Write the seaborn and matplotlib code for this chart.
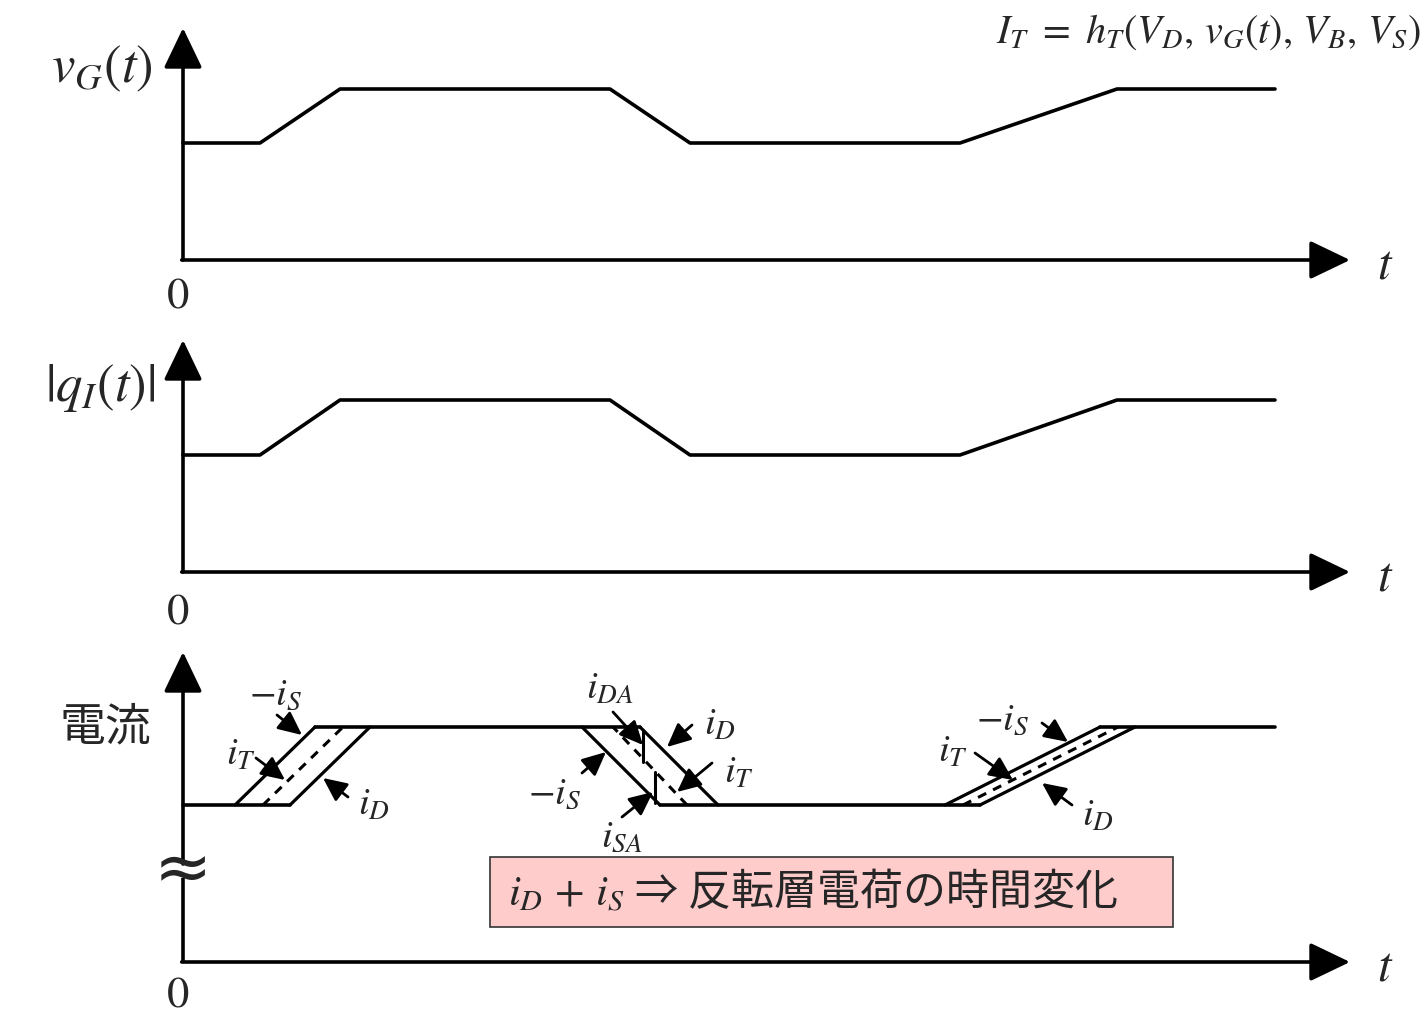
import matplotlib
matplotlib.use("Agg")
import matplotlib.pyplot as plt
from matplotlib.patches import Rectangle
import seaborn as sns

# time knots (units of 100 px on the drawing) and levels for the two voltage-like traces
t_knots = [0.0, 0.77, 1.57, 4.27, 5.07, 7.77, 9.34, 10.92]
vg_level = [1.17, 1.17, 1.71, 1.71, 1.17, 1.17, 1.71, 1.71]
qi_level = [1.17, 1.17, 1.72, 1.72, 1.17, 1.17, 1.72, 1.72]

# current panel: two plateaus and three transitions
cur_low, cur_high = 1.57, 2.35
low_runs = [(0.0, 1.07), (4.77, 7.97)]
high_runs = [(1.32, 4.57), (9.17, 10.92)]
# each edge: t at low level, t at high level
is_edge = [(0.52, 1.32), (4.77, 3.99), (7.62, 9.17)]
id_edge = [(1.07, 1.87), (5.35, 4.57), (7.97, 9.52)]
it_edge = [(0.80, 1.60), (5.04, 4.30), (7.80, 9.35)]
# small vertical pieces at the falling edge (i_DA, i_SA)
ida_seg = (4.60, 2.32, 2.00)
isa_seg = (4.72, 1.90, 1.59)

# labels: text, label position, arrow tail, arrow head
notes = [
    (r"$-i_S$", (0.93, 2.68), (0.94, 2.47), (1.19, 2.27)),
    (r"$i_T$", (0.58, 2.08), (0.73, 2.04), (1.02, 1.82)),
    (r"$i_D$", (1.91, 1.58), (1.65, 1.65), (1.40, 1.84)),
    (r"$i_{DA}$", (4.27, 2.74), (4.30, 2.50), (4.60, 2.17)),
    (r"$i_D$", (5.37, 2.38), (5.09, 2.37), (4.84, 2.15)),
    (r"$i_T$", (5.56, 1.90), (5.29, 1.99), (4.94, 1.70)),
    (r"$-i_S$", (3.72, 1.69), (3.99, 1.89), (4.23, 2.10)),
    (r"$i_{SA}$", (4.39, 1.26), (4.39, 1.45), (4.70, 1.70)),
    (r"$-i_S$", (8.20, 2.43), (8.59, 2.39), (8.85, 2.20)),
    (r"$i_T$", (7.70, 2.11), (7.92, 2.09), (8.30, 1.82)),
    (r"$i_D$", (9.15, 1.47), (8.89, 1.57), (8.59, 1.79)),
]

formula = r"$I_T\ =\ h_T(V_D,\,v_G(t),\,V_B,\,V_S)$"
box_text = r"$i_D\,+\,i_S$ ⇒ 反転層電荷の時間変化"

sns.set_theme(style="white")
plt.rcParams["font.family"] = ["Noto Sans CJK JP", "DejaVu Sans"]
plt.rcParams["mathtext.fontset"] = "stix"

W, H = 1427, 1015
fig = plt.figure(figsize=(W / 100, H / 100), dpi=100)
LW = 2.6


def make_panel(top, bottom, origin):
    ax = fig.add_axes([0, 1 - bottom / H, 1, (bottom - top) / H])
    ax.set_xlim(-1.83, (W - 183) / 100)
    ax.set_ylim((origin - bottom) / 100, (origin - top) / 100)
    ax.axis("off")
    return ax


def axis_arrows(ax, ytop, ystart=0.0, zero_y=-0.38):
    head = dict(arrowstyle="-|>,head_length=0.5,head_width=0.24", mutation_scale=50,
                lw=LW, color="black", shrinkA=0, shrinkB=0)
    ax.annotate("", xy=(0, ytop), xytext=(0, ystart), arrowprops=head)
    ax.annotate("", xy=(11.67, 0), xytext=(-0.013, 0), arrowprops=head)
    ax.text(-0.05, zero_y, "0", fontsize=32, ha="center", va="center", family="STIXGeneral")
    ax.text(12.02, -0.05, r"$t$", fontsize=35, ha="center", va="center")


ax1 = make_panel(0, 330, 260)
ax2 = make_panel(330, 650, 572)
ax3 = make_panel(650, 1015, 962)

# panel 1
axis_arrows(ax1, 2.32)
sns.lineplot(x=t_knots, y=vg_level, ax=ax1, color="black", lw=LW, sort=False)
ax1.text(-0.30, 1.93, r"$v_G(t)$", fontsize=38, ha="right", va="center")
ax1.text(12.38, 2.28, formula, fontsize=29, ha="right", va="center")

# panel 2
axis_arrows(ax2, 2.32, zero_y=-0.42)
sns.lineplot(x=t_knots, y=qi_level, ax=ax2, color="black", lw=LW, sort=False)
ax2.text(-0.28, 1.85, r"$|q_I(t)|$", fontsize=38, ha="right", va="center")

# panel 3
axis_arrows(ax3, 3.10, ystart=0.98, zero_y=-0.35)
ax3.plot([0, 0], [0, 0.84], color="black", lw=LW, solid_capstyle="butt")
ax3.text(0, 0.91, "≈", fontsize=50, ha="center", va="center", family="DejaVu Sans")
for a, b in low_runs:
    ax3.plot([a, b], [cur_low, cur_low], color="black", lw=LW)
for a, b in high_runs:
    ax3.plot([a, b], [cur_high, cur_high], color="black", lw=LW)
for a, b in is_edge + id_edge:
    ax3.plot([a, b], [cur_low, cur_high], color="black", lw=2.3)
for a, b in it_edge:
    ax3.plot([a, b], [cur_low, cur_high], color="black", lw=2.2, ls=(0, (3, 2.5)))
for x, y0, y1 in (ida_seg, isa_seg):
    ax3.plot([x, x], [y0, y1], color="black", lw=2.2)

arrow_small = dict(arrowstyle="-|>,head_length=0.6,head_width=0.28", mutation_scale=24,
                   lw=2.0, color="black", shrinkA=0, shrinkB=0)
for txt, pos, tail, tip in notes:
    ax3.text(pos[0], pos[1], txt, fontsize=28, ha="center", va="center")
    ax3.annotate("", xy=tip, xytext=tail, arrowprops=arrow_small)

ax3.text(-0.78, 2.35, "電流", fontsize=33, ha="center", va="center")
ax3.add_patch(Rectangle((3.07, 0.35), 6.83, 0.70, facecolor="#ffcccc",
                        edgecolor="#333333", lw=1.2))
ax3.text(6.30, 0.70, box_text, fontsize=31, ha="center", va="center")

fig.savefig("out.png", dpi=100)
